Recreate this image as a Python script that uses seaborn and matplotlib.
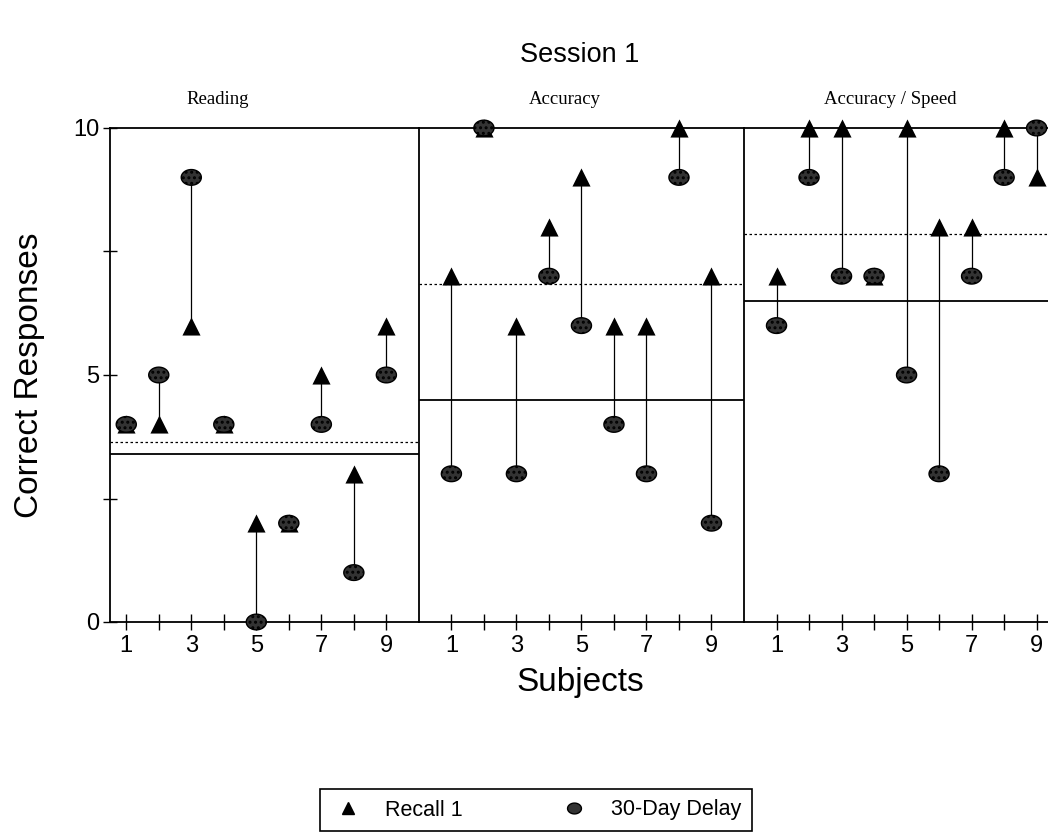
import numpy as np
import pandas as pd
import matplotlib
matplotlib.use("Agg")
import matplotlib.pyplot as plt
from matplotlib.lines import Line2D
from matplotlib.path import Path
import seaborn as sns

# values
subjects = [1, 2, 3, 4, 5, 6, 7, 8, 9]
panels = ["Reading", "Accuracy", "Accuracy / Speed"]

reading_recall = [4, 4, 6, 4, 2, 2, 5, 3, 6]
reading_delay = [4, 5, 9, 4, 0, 2, 4, 1, 5]
accuracy_recall = [7, 10, 6, 8, 9, 6, 6, 10, 7]
accuracy_delay = [3, 10, 3, 7, 6, 4, 3, 9, 2]
speed_recall = [7, 10, 10, 7, 10, 8, 8, 10, 9]
speed_delay = [6, 9, 7, 7, 5, 3, 7, 9, 10]

# horizontal reference lines per panel (solid / dotted)
solid_line = [3.4, 4.5, 6.5]
dotted_line = [3.65, 6.85, 7.85]

recall = [reading_recall, accuracy_recall, speed_recall]
delay = [reading_delay, accuracy_delay, speed_delay]

sns.set_theme(style="ticks")
plt.rcParams["font.family"] = ["Liberation Sans", "DejaVu Sans"]
plt.rcParams["text.color"] = "black"
plt.rcParams["xtick.color"] = "black"
plt.rcParams["ytick.color"] = "black"
plt.rcParams["hatch.color"] = "white"
plt.rcParams["hatch.linewidth"] = 1.4

# slightly flattened circle like the scanned symbol
t = np.linspace(0, 2 * np.pi, 40)
oval = Path(np.column_stack([np.cos(t), 0.78 * np.sin(t)]), closed=True)

xlims = [(0.5, 10), (0, 10), (0, 9.35)]
widths = [b - a for a, b in xlims]

fig = plt.figure(figsize=(10.48, 8.39), dpi=100)
gs = fig.add_gridspec(1, 3, width_ratios=widths, wspace=0,
                      left=110 / 1048, right=1.0, top=1 - 128 / 839, bottom=1 - 622 / 839)
axes = [fig.add_subplot(gs[0, i]) for i in range(3)]

for i, ax in enumerate(axes):
    df = pd.DataFrame({"subject": subjects, "recall": recall[i], "delay": delay[i]})
    ax.vlines(df["subject"], df["recall"], df["delay"], color="black", lw=0.9, zorder=2)
    ax.axhline(solid_line[i], color="black", lw=1.3, zorder=1)
    ax.axhline(dotted_line[i], color="black", lw=0.9, ls=(0, (2, 2)), zorder=1)
    sns.scatterplot(data=df, x="subject", y="recall", marker="^", color="black",
                    s=170, edgecolor="black", linewidth=0, ax=ax, zorder=3, clip_on=False)
    sns.scatterplot(data=df, x="subject", y="delay", marker=oval, color="#333333",
                    s=210, edgecolor="black", linewidth=1.0, hatch="...",
                    ax=ax, zorder=4, clip_on=False)
    ax.set_xlim(*xlims[i])
    ax.set_ylim(0, 10)
    ax.set_xticks(subjects)
    ax.set_xticklabels([str(s) if s % 2 == 1 else "" for s in subjects], fontsize=17)
    ax.tick_params(axis="x", direction="inout", length=12, width=1, pad=3)
    ax.set_xlabel("")
    ax.set_ylabel("")
    for sp in ax.spines.values():
        sp.set_color("black")
        sp.set_linewidth(1.3)
    ax.spines["right"].set_visible(False)
    if i == 0:
        ax.set_yticks([0, 5, 10])
        ax.set_yticks([2.5, 7.5], minor=True)
        ax.set_yticklabels(["0", "5", "10"], fontsize=17)
        ax.tick_params(axis="y", which="both", direction="inout", length=10, width=1, pad=2.5)
    else:
        ax.set_yticks([])
        ax.tick_params(axis="y", which="both", length=0)

fig.text(580 / 1048, 1 - 55 / 839, "Session 1", ha="center", va="center", fontsize=19.5)
label_x = [218, 565, 890]
for name, x in zip(panels, label_x):
    fig.text(x / 1048, 1 - 100 / 839, name, ha="center", va="center",
             fontsize=13.5, family=["Liberation Serif", "DejaVu Serif"])

fig.text(30 / 1048, 1 - 375 / 839, "Correct Responses", rotation=90,
         ha="center", va="center", fontsize=24)
fig.text(580 / 1048, 1 - 682 / 839, "Subjects", ha="center", va="center", fontsize=24)

handles = [
    Line2D([], [], marker="^", color="black", ls="none", markersize=9),
    Line2D([], [], marker=oval, color="#333333", markeredgecolor="black", ls="none", markersize=10),
]
leg = fig.legend(handles, ["Recall 1", "30-Day Delay"], loc="center",
                 bbox_to_anchor=(536 / 1048, 1 - 810 / 839), ncol=2, fontsize=15.5,
                 frameon=True, fancybox=False, framealpha=1, edgecolor="black",
                 columnspacing=4.4, handletextpad=0.9, borderpad=0.5, handlelength=1.6)
leg.get_frame().set_linewidth(1.2)

fig.savefig("out.png", dpi=100)
